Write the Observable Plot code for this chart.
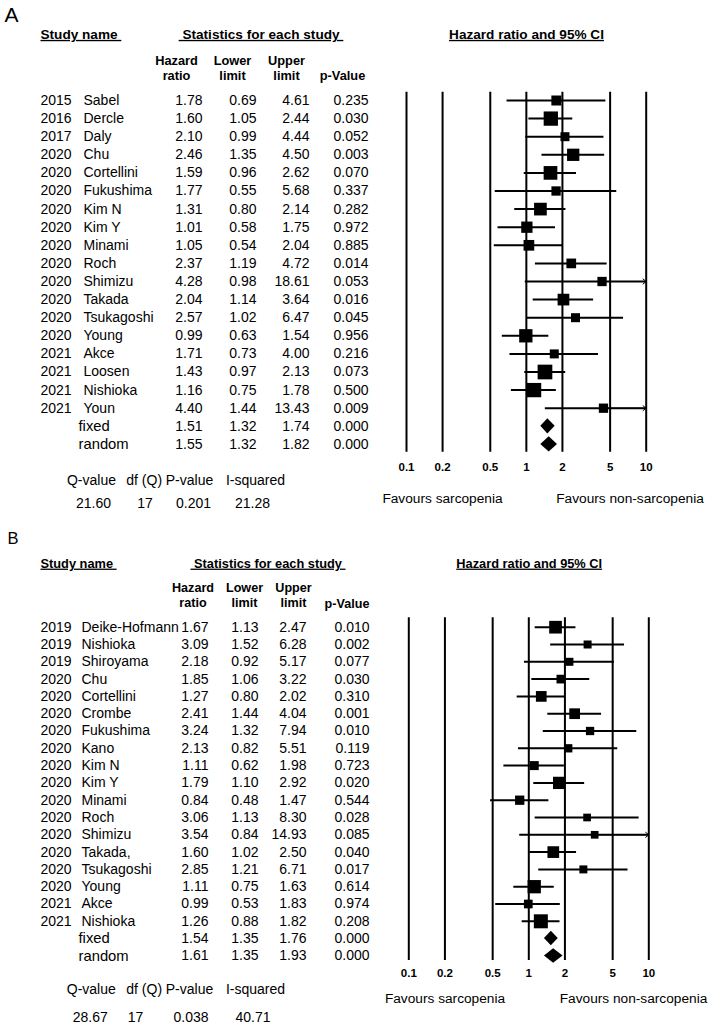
<!DOCTYPE html>
<html>
<head>
<meta charset="utf-8">
<script src="https://cdn.jsdelivr.net/npm/d3@7"></script>
<script src="https://cdn.jsdelivr.net/npm/@observablehq/plot@0.6"></script>
<style>
  html, body { margin: 0; padding: 0; background: #fff; }
  svg { display: block; }
</style>
</head>
<body>
<div id="chart"></div>
<script>
// ---------------- Panel A data ----------------
const yearsA = [2015, 2016, 2017, 2020, 2020, 2020, 2020, 2020, 2020, 2020, 2020, 2020, 2020, 2020, 2021, 2021, 2021, 2021];
const namesA = ["Sabel", "Dercle", "Daly", "Chu", "Cortellini", "Fukushima", "Kim N", "Kim Y", "Minami", "Roch", "Shimizu", "Takada", "Tsukagoshi", "Young", "Akce", "Loosen", "Nishioka", "Youn"];
const hrA    = [1.78, 1.60, 2.10, 2.46, 1.59, 1.77, 1.31, 1.01, 1.05, 2.37, 4.28, 2.04, 2.57, 0.99, 1.71, 1.43, 1.16, 4.40];
const lowerA = [0.69, 1.05, 0.99, 1.35, 0.96, 0.55, 0.80, 0.58, 0.54, 1.19, 0.98, 1.14, 1.02, 0.63, 0.73, 0.97, 0.75, 1.44];
const upperA = [4.61, 2.44, 4.44, 4.50, 2.62, 5.68, 2.14, 1.75, 2.04, 4.72, 18.61, 3.64, 6.47, 1.54, 4.00, 2.13, 1.78, 13.43];
const pA     = [0.235, 0.030, 0.052, 0.003, 0.070, 0.337, 0.282, 0.972, 0.885, 0.014, 0.053, 0.016, 0.045, 0.956, 0.216, 0.073, 0.500, 0.009];
// relative study weights
const weightA = [4.21, 8.60, 3.41, 6.36, 7.89, 3.64, 6.78, 5.37, 4.81, 3.96, 3.64, 5.76, 3.41, 7.44, 3.41, 9.09, 8.60, 3.64];
const pooledHrA    = [1.51, 1.55];
const pooledLowerA = [1.32, 1.32];
const pooledUpperA = [1.74, 1.82];
const pooledPA     = [0.000, 0.000];
const hetA = [21.60, 17, 0.201, 21.28];

// ---------------- Panel B data ----------------
const yearsB = [2019, 2019, 2019, 2020, 2020, 2020, 2020, 2020, 2020, 2020, 2020, 2020, 2020, 2020, 2020, 2020, 2021, 2021];
const namesB = ["Deike-Hofmann", "Nishioka", "Shiroyama", "Chu", "Cortellini", "Crombe", "Fukushima", "Kano", "Kim N", "Kim Y", "Minami", "Roch", "Shimizu", "Takada,", "Tsukagoshi", "Young", "Akce", "Nishioka"];
const hrB    = [1.67, 3.09, 2.18, 1.85, 1.27, 2.41, 3.24, 2.13, 1.11, 1.79, 0.84, 3.06, 3.54, 1.60, 2.85, 1.11, 0.99, 1.26];
const lowerB = [1.13, 1.52, 0.92, 1.06, 0.80, 1.44, 1.32, 0.82, 0.62, 1.10, 0.48, 1.13, 0.84, 1.02, 1.21, 0.75, 0.53, 0.88];
const upperB = [2.47, 6.28, 5.17, 3.22, 2.02, 4.04, 7.94, 5.51, 1.98, 2.92, 1.47, 8.30, 14.93, 2.50, 6.71, 1.63, 1.83, 1.82];
const pB     = [0.010, 0.002, 0.077, 0.030, 0.310, 0.001, 0.010, 0.119, 0.723, 0.020, 0.544, 0.028, 0.085, 0.040, 0.017, 0.614, 0.974, 0.208];
const weightB = [6.78, 2.69, 2.69, 3.18, 4.82, 4.82, 2.90, 2.90, 3.41, 6.36, 3.64, 2.49, 2.49, 5.76, 2.69, 7.44, 3.18, 8.24];
const pooledHrB    = [1.54, 1.61];
const pooledLowerB = [1.35, 1.35];
const pooledUpperB = [1.76, 1.93];
const pooledPB     = [0.000, 0.000];
const hetB = [28.67, 17, 0.038, 40.71];

// ---------------- shared labels ----------------
const pooledLabels = ["fixed", "random"];
const hetLabels = ["Q-value", "df (Q)", "P-value", "I-squared"];
const ticks = [0.1, 0.2, 0.5, 1, 2, 5, 10];
const favourLabels = ["Favours sarcopenia", "Favours non-sarcopenia"];

// ---------------- layout ----------------
const layoutA = {
  letter: "A", height: 512, mL: 406, mR: 63.3, y0: 100, dy: 18.1,
  letterX: 4, letterY: 15, letterSize: 21,
  headSize: 13.6, headY: 34, studyX: 40, statsX: 260.5, hrTitleX: 526,
  colSize: 12.8, colY: 67.5, pHeadY: 75, colHr: 176, colLo: 232, colUp: 286, colP: 342,
  xYear: 40, xName: 83, xPooled: 78, xHr: 202, xLo: 256, xUp: 309, xP: 368,
  lines: [-0.46, 19.43],
  tickY: 467, favY: 498, favX: [442, 629.5],
  hetLabelY: 480, hetValueY: 503, hetLabelX: [91, 143.7, 189, 255], hetValueX: [93, 144.5, 193, 252]
};
const layoutB = {
  letter: "B", height: 513, mL: 408.3, mR: 60.7, y0: 114.7, dy: 17.3,
  letterX: 7, letterY: 26, letterSize: 16.5,
  headSize: 12.8, headY: 51, studyX: 40, statsX: 267.5, hrTitleX: 528.7,
  colSize: 12.6, colY: 82.5, pHeadY: 91, colHr: 192.5, colLo: 244, colUp: 293, colP: 346.5,
  xYear: 40, xName: 81, xPooled: 78, xHr: 208, xLo: 258, xUp: 306, xP: 369,
  lines: [-0.54, 19.27],
  tickY: 460.7, favY: 486.3, favX: [444.5, 633],
  hetLabelY: 477, hetValueY: 504.7, hetLabelX: [90.8, 143.7, 189, 255], hetValueX: [89.7, 135, 190.5, 252.5]
};

const FONT = "'Liberation Sans', Arial, Helvetica, sans-serif";
const UNDERLINED = new Set(["Study name", "Statistics for each study", "Hazard ratio and 95% CI"]);

function buildPanel(L, D) {
  const studies = D.names.map((name, i) => ({
    row: i, year: D.years[i], name, hr: D.hr[i], lower: D.lower[i], upper: D.upper[i], p: D.p[i], weight: D.weight[i]
  }));
  const n = studies.length;
  const pooled = pooledLabels.map((label, j) => ({
    row: n + j, label, hr: D.pooledHr[j], lower: D.pooledLower[j], upper: D.pooledUpper[j], p: D.pooledP[j]
  }));
  const table = [...studies, ...pooled];
  const last = table.length - 1;
  const xMax = ticks[ticks.length - 1];
  const half = 0.42;
  const diamonds = pooled.flatMap(d => [
    {label: d.label, y: d.row - half, x1: d.hr, x2: d.hr},
    {label: d.label, y: d.row, x1: d.lower, x2: d.upper},
    {label: d.label, y: d.row + half, x1: d.hr, x2: d.hr}
  ]);
  const mL = L.mL;
  // absolute placement helper (frame top-left is (mL, 0))
  const at = (px, py, anchor = "middle") => ({frameAnchor: "top-left", dx: px - mL, dy: py, textAnchor: anchor, lineAnchor: "middle"});
  const col = (px) => ({frameAnchor: "left", dx: px - mL, lineAnchor: "middle"});
  const het = hetLabels.map((label, k) => ({
    label, k,
    value: k === 1 ? String(D.het[k]) : (k === 2 ? D.het[k].toFixed(3) : D.het[k].toFixed(2))
  }));

  const marks = [
    // vertical reference lines
    Plot.ruleX(ticks, {x: d => d, y1: L.lines[0], y2: L.lines[1], stroke: "#000", strokeWidth: 2}),
    // confidence intervals
    Plot.ruleY(studies, {y: "row", x1: "lower", x2: d => Math.min(d.upper, xMax), stroke: "#000", strokeWidth: 2}),
    Plot.arrow(studies.filter(d => d.upper > xMax), {
      x1: "hr", x2: d => Math.min(d.upper, xMax), y1: "row", y2: "row",
      stroke: "#000", strokeWidth: 1, headLength: 6, headAngle: 76
    }),
    // study boxes
    Plot.dot(studies, {x: "hr", y: "row", r: "weight", symbol: "square", fill: "#000"}),
    // pooled diamonds
    Plot.areaX(diamonds, {y: "y", x1: "x1", x2: "x2", z: "label", fill: "#000"}),
    // tick labels
    Plot.text(ticks, {x: d => d, frameAnchor: "top", dy: L.tickY, lineAnchor: "middle", textAnchor: "middle",
      text: d => String(d), fontWeight: "bold", fontSize: 11.5}),
    // favours labels
    ...favourLabels.map((t, k) => Plot.text([t], {...at(L.favX[k], L.favY), text: d => d, fontSize: 13.7})),
    // panel letter
    Plot.text([L.letter], {...at(L.letterX, L.letterY, "start"), text: d => d, fontSize: L.letterSize}),
    // section headings
    Plot.text(["Study name\u00a0"], {...at(L.studyX, L.headY, "start"), text: d => d, fontWeight: "bold", fontSize: L.headSize}),
    Plot.text(["\u00a0Statistics for each study\u00a0"], {...at(L.statsX, L.headY), text: d => d, fontWeight: "bold", fontSize: L.headSize}),
    Plot.text(["Hazard ratio and 95% CI"], {...at(L.hrTitleX, L.headY), text: d => d, fontWeight: "bold", fontSize: L.headSize}),
    // column headings
    Plot.text(["Hazard\nratio"], {...at(L.colHr, L.colY), text: d => d, fontWeight: "bold", fontSize: L.colSize, lineHeight: 1.17}),
    Plot.text(["Lower\nlimit"], {...at(L.colLo, L.colY), text: d => d, fontWeight: "bold", fontSize: L.colSize, lineHeight: 1.17}),
    Plot.text(["Upper\nlimit"], {...at(L.colUp, L.colY), text: d => d, fontWeight: "bold", fontSize: L.colSize, lineHeight: 1.17}),
    Plot.text(["p-Value"], {...at(L.colP, L.pHeadY), text: d => d, fontWeight: "bold", fontSize: L.colSize}),
    // table body
    Plot.text(studies, {y: "row", ...col(L.xYear), text: d => String(d.year), textAnchor: "start", fontSize: 14}),
    Plot.text(studies, {y: "row", ...col(L.xName), text: "name", textAnchor: "start", fontSize: 14}),
    Plot.text(pooled, {y: "row", ...col(L.xPooled), text: "label", textAnchor: "start", fontSize: 14.8}),
    Plot.text(table, {y: "row", ...col(L.xHr), text: d => d.hr.toFixed(2), textAnchor: "end", fontSize: 14}),
    Plot.text(table, {y: "row", ...col(L.xLo), text: d => d.lower.toFixed(2), textAnchor: "end", fontSize: 14}),
    Plot.text(table, {y: "row", ...col(L.xUp), text: d => d.upper.toFixed(2), textAnchor: "end", fontSize: 14}),
    Plot.text(table, {y: "row", ...col(L.xP), text: d => d.p.toFixed(3), textAnchor: "end", fontSize: 14}),
    // heterogeneity
    ...het.map(h => Plot.text([h.label], {...at(L.hetLabelX[h.k], L.hetLabelY), text: d => d, fontSize: 14})),
    ...het.map(h => Plot.text([h.value], {...at(L.hetValueX[h.k], L.hetValueY), text: d => d, fontSize: 14}))
  ];

  const svg = Plot.plot({
    width: 709,
    height: L.height,
    marginLeft: mL, marginRight: L.mR, marginTop: 0, marginBottom: 0,
    style: {fontFamily: FONT, background: "#fff", color: "#000", overflow: "visible"},
    x: {type: "log", domain: [ticks[0], xMax], axis: null},
    y: {domain: [0, last], range: [L.y0, L.y0 + L.dy * last], axis: null},
    r: {type: "sqrt", domain: [0, 10], range: [0, 8.7]},
    marks
  });
  svg.querySelectorAll("text").forEach(t => {
    if (UNDERLINED.has(t.textContent.trim())) t.style.textDecoration = "underline";
  });
  return svg;
}

const svgA = buildPanel(layoutA, {
  years: yearsA, names: namesA, hr: hrA, lower: lowerA, upper: upperA, p: pA, weight: weightA,
  pooledHr: pooledHrA, pooledLower: pooledLowerA, pooledUpper: pooledUpperA, pooledP: pooledPA, het: hetA
});
const svgB = buildPanel(layoutB, {
  years: yearsB, names: namesB, hr: hrB, lower: lowerB, upper: upperB, p: pB, weight: weightB,
  pooledHr: pooledHrB, pooledLower: pooledLowerB, pooledUpper: pooledUpperB, pooledP: pooledPB, het: hetB
});
document.getElementById("chart").append(svgA, svgB);
</script>
</body>
</html>
